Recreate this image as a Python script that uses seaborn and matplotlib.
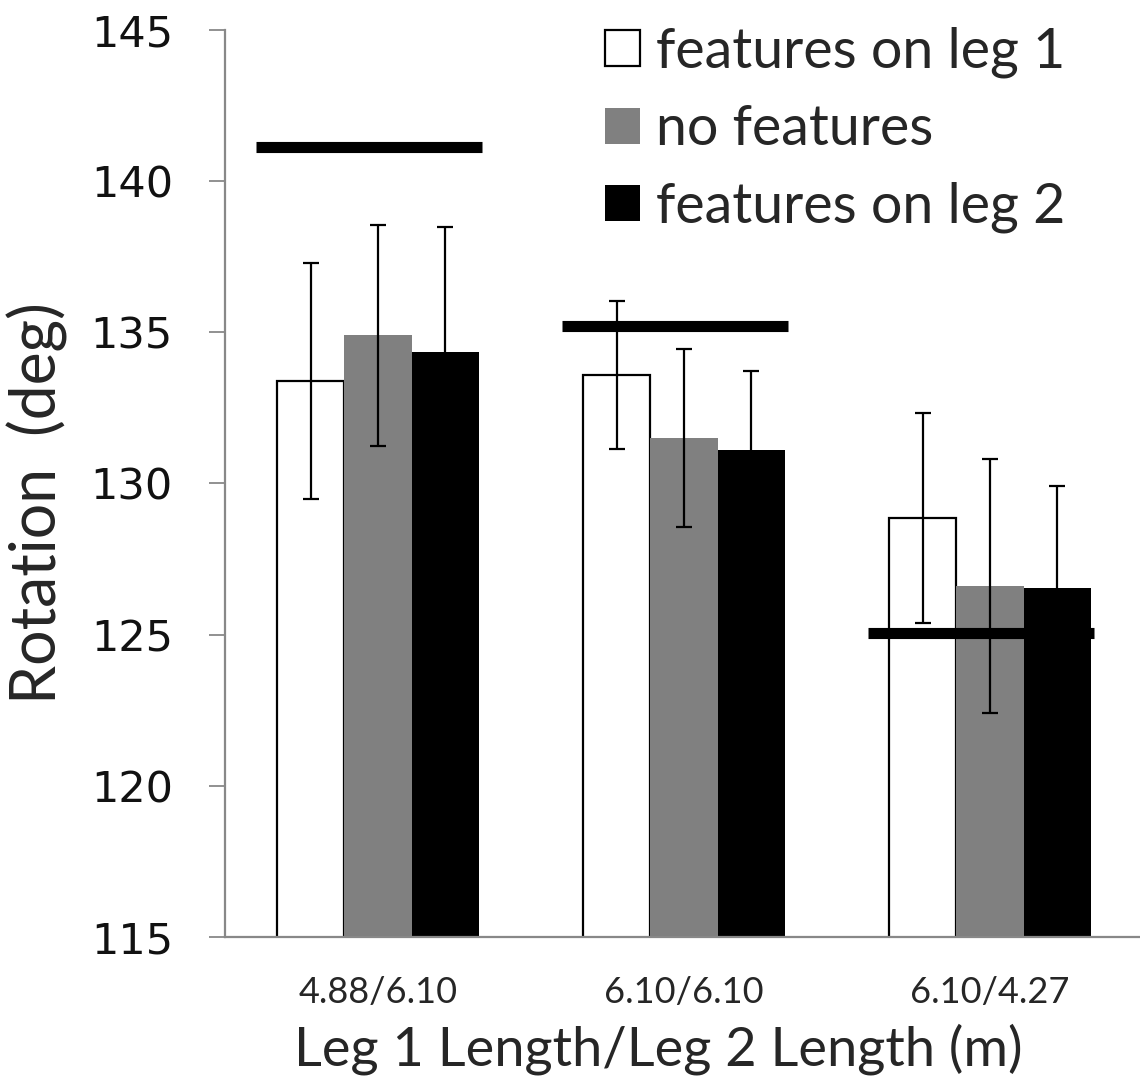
import pandas as pd
import matplotlib.pyplot as plt
import seaborn as sns

# data
lengths = ["4.88/6.10", "6.10/6.10", "6.10/4.27"]
conditions = ["features on leg 1", "no features", "features on leg 2"]
rot_leg1 = [133.4, 133.6, 128.85]
rot_none = [134.9, 131.5, 126.6]
rot_leg2 = [134.35, 131.1, 126.55]
err_leg1 = [3.9, 2.45, 3.47]
err_none = [3.65, 2.95, 4.2]
err_leg2 = [4.13, 2.62, 3.35]
ref_lines = [141.13, 135.2, 125.07]
colors = ["white", "#808080", "black"]

means = [rot_leg1, rot_none, rot_leg2]
errs = [err_leg1, err_none, err_leg2]

df = pd.DataFrame({
    "length": [l for _ in conditions for l in lengths],
    "condition": [c for c in conditions for _ in lengths],
    "rotation": [v for m in means for v in m],
})

sns.set_theme(style="white")
plt.rcParams["font.family"] = ["Lato", "DejaVu Sans"]

fig = plt.figure(figsize=(11.4, 10.9), dpi=100)
ax = fig.add_axes([0.1974, 0.1404, 0.8026, 0.8321])

sns.barplot(data=df, x="length", y="rotation", hue="condition",
            palette=colors, width=0.66, errorbar=None, ax=ax,
            edgecolor="none", legend=True)

# outline and error bars, positioned from the drawn bars
for cont, err, col in zip(ax.containers, errs, colors):
    xs, ys = [], []
    for p in cont.patches:
        if col == "white":
            p.set_edgecolor("black")
            p.set_linewidth(1.6)
        xs.append(p.get_x() + p.get_width() / 2)
        ys.append(p.get_y() + p.get_height())
    ax.errorbar(xs, ys, yerr=err, fmt="none", ecolor="black",
                elinewidth=1.6, capsize=6, capthick=1.6, zorder=3)

# thick reference lines over each group
for i, v in enumerate(ref_lines):
    ax.hlines(v, i - 0.40, i + 0.34, color="black", linewidth=8,
              zorder=4, capstyle="butt")

ax.set_ylim(115, 145)
ax.set_xlim(-0.5, 2.49)
ax.set_yticks(range(115, 146, 5))
ax.set_yticklabels([str(t) for t in range(115, 146, 5)],
                   fontsize=31, family="DejaVu Sans", color="#111111")
ax.set_xticks([0, 1, 2])
ax.set_xticklabels(lengths, fontsize=26)
ax.set_xticks([-0.5, 0.5, 1.5], minor=True)
ax.tick_params(axis="x", which="major", length=0, pad=28)
ax.tick_params(axis="x", which="minor", length=10, width=1.3,
               color="#888888", direction="out")
ax.tick_params(axis="y", length=11.5, width=1.3, color="#888888",
               direction="out", pad=26, left=True)

for s in ["top", "right"]:
    ax.spines[s].set_visible(False)
for s in ["left", "bottom"]:
    ax.spines[s].set_color("#888888")
    ax.spines[s].set_linewidth(1.6)

ax.set_xlabel("Leg 1 Length/Leg 2 Length (m)", fontsize=39)
ax.xaxis.set_label_coords(0.474, -0.095)
ax.set_ylabel("Rotation  (deg)", fontsize=45)
ax.yaxis.set_label_coords(-0.172, 0.478)

handles, labels = ax.get_legend_handles_labels()
for h, col in zip(handles, colors):
    if col == "white":
        h.set_edgecolor("black")
        h.set_linewidth(1.6)
ax.legend(handles, labels, loc="upper left", bbox_to_anchor=(0.531, 0.976),
          bbox_transform=fig.transFigure, frameon=False, fontsize=40,
          handlelength=0.62, handleheight=0.62, handletextpad=0.3,
          labelspacing=0.48, borderpad=0, borderaxespad=0)

fig.savefig("out.png", dpi=100)
